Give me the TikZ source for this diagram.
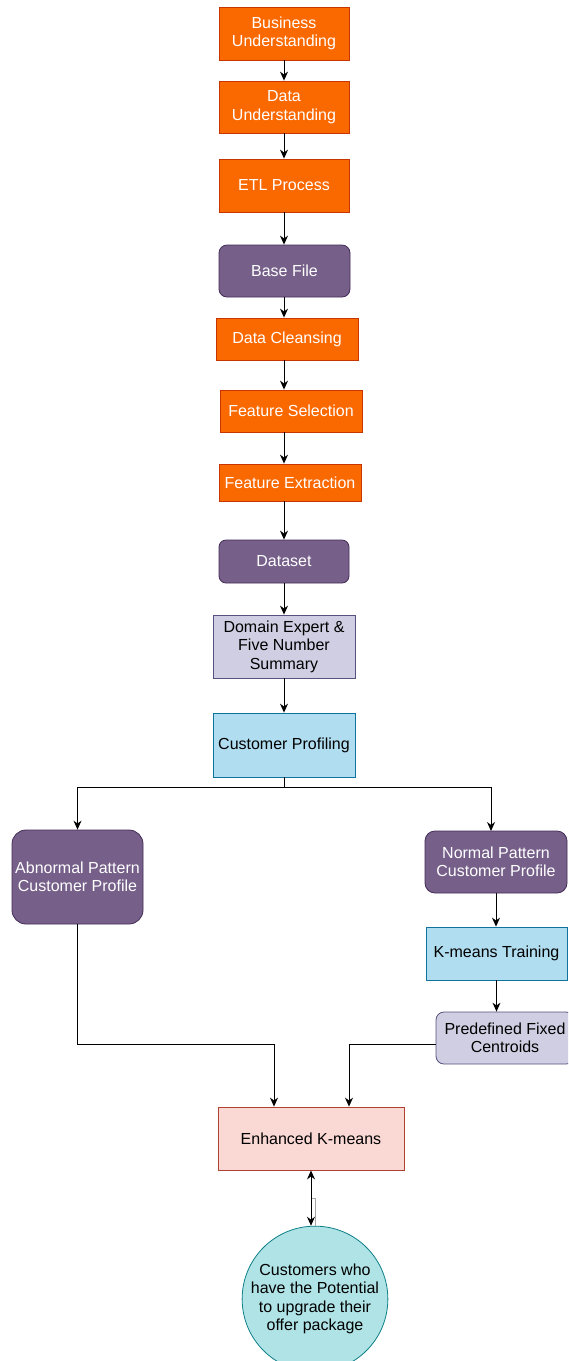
\documentclass[tikz,border=0pt]{standalone}
\usepackage{fontspec}
\setmainfont{Liberation Sans}
\usepackage{tikz}
\usetikzlibrary{arrows.meta,calc}
\definecolor{orng}{HTML}{FA6800}
\definecolor{orngline}{HTML}{C73500}
\definecolor{plum}{HTML}{76608A}
\definecolor{plumline}{HTML}{432D57}
\definecolor{lilac}{HTML}{D0CEE2}
\definecolor{lilacline}{HTML}{56517E}
\definecolor{sky}{HTML}{B1DDF0}
\definecolor{skyline}{HTML}{10739E}
\definecolor{blush}{HTML}{FAD9D5}
\definecolor{blushline}{HTML}{AE4132}
\definecolor{aqua}{HTML}{B0E3E6}
\definecolor{aqualine}{HTML}{0E8088}

\begin{document}
\begin{tikzpicture}[x=1pt,y=-1pt,>={Stealth[length=9pt,width=8pt]},
  box/.style={draw,align=center,inner sep=2pt,line width=0.8pt,font=\fontsize{16}{18.5}\selectfont},
  phase/.style={box,fill=orng,draw=orngline,text=white},
  store/.style={box,fill=plum,draw=plumline,text=white},
  note/.style={box,fill=lilac,draw=lilacline},
  model/.style={box,fill=sky,draw=skyline},
  link/.style={->,line width=1pt}]
\clip (0,0) rectangle (568,1361);
\fill[white] (0,0) rectangle (568,1361);
% main column
\node[phase,minimum width=130,minimum height=53] (BU) at (284,33.5) {Business\\Understanding};
\node[phase,minimum width=130,minimum height=52] (DU) at (284,107) {Data\\Understanding};
\node[phase,minimum width=130,minimum height=53] (ETL) at (284,185.5) {ETL Process};
\node[store,rounded corners=8pt,minimum width=131,minimum height=52] (BF) at (284.5,271) {Base File};
\node[phase,minimum width=142,minimum height=42] (DC) at (287,339) {Data Cleansing};
\node[phase,minimum width=142,minimum height=42] (FS) at (291,411) {Feature Selection};
\node[phase,minimum width=142,minimum height=37] (FE) at (290,482.5) {Feature Extraction};
\node[store,rounded corners=7pt,minimum width=130,minimum height=43] (DS) at (284,561.5) {Dataset};
\node[note,minimum width=142,minimum height=63] (DE) at (284,646.5) {Domain Expert \&\\Five Number\\Summary};
\node[model,minimum width=142,minimum height=64] (CP) at (284,745) {Customer Profiling};
% branches
\node[store,rounded corners=14pt,minimum width=131,minimum height=94] (AB) at (77.5,877) {Abnormal Pattern\\Customer Profile};
\node[store,rounded corners=10pt,minimum width=142,minimum height=62] (NO) at (496,862) {Normal Pattern\\Customer Profile};
\node[model,minimum width=141,minimum height=53] (KT) at (496.5,953.5) {K-means Training};
\node[note,rounded corners=8pt,minimum width=138,minimum height=52] (PF) at (505,1038) {Predefined Fixed\\Centroids};
\node[box,fill=blush,draw=blushline,minimum width=186,minimum height=63] (EK) at (311,1138.5) {Enhanced K-means};
\node[box,circle,fill=aqua,draw=aqualine,minimum size=144,inner sep=0pt] (CU) at (315,1299) {Customers who\\have the Potential\\to upgrade their\\offer package};
% connectors
\coordinate (axis) at (284,0);
\foreach \a/\b in {BU/DU,DU/ETL,ETL/BF,BF/DC,DC/FS,FS/FE,FE/DS,DS/DE,DE/CP}
  \draw[link] (\a.south -| axis) -- (\b.north -| axis);
\coordinate (bus) at (284,787);
\draw[line width=1pt] (CP.south -| axis) -- (bus);
\draw[link] (bus) -| (AB.north);
\draw[link] (bus) -| (491,831);
\draw[link] (NO.south) -- (NO.south |- KT.north);
\draw[link] (KT.south) -- (KT.south |- PF.north);
\coordinate (jl) at (274,1044);
\coordinate (jr) at (349,1044);
\draw[link] (AB.south) |- (jl) -- (jl |- EK.north);
\draw[link] (PF.west |- jr) -- (jr) -- (jr |- EK.north);
\draw[gray!70,line width=0.8pt] ([yshift=-28pt]EK.south) -| (CU.north);
\draw[<->,line width=1pt] (EK.south) -- (EK.south |- CU.north);
\end{tikzpicture}
\end{document}
